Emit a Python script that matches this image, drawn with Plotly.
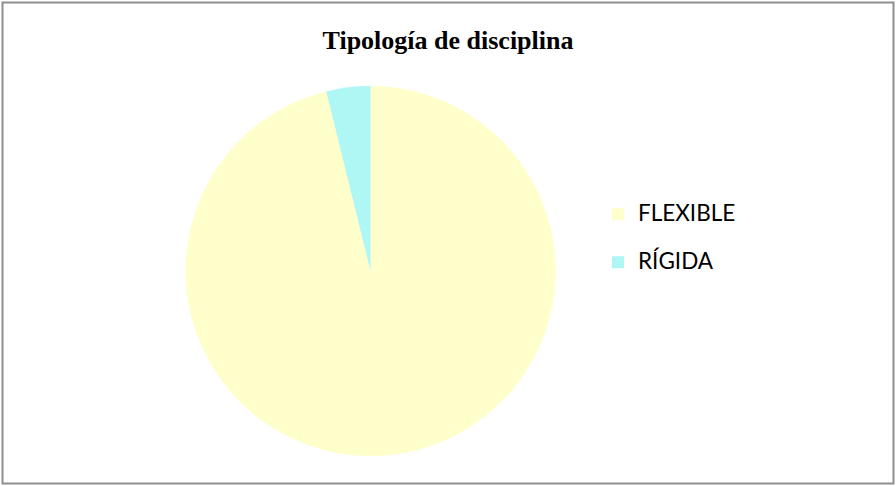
import plotly.graph_objects as go

labels = ["FLEXIBLE", "RÍGIDA"]
values = [25, 1]
colors = ["#FFFFCC", "#AEF7F5"]

W, H = 896, 486

# blank first line makes each legend row taller (matches the wide row spacing)
legend_labels = ["&nbsp;<br><span style='font-size:22.5px'>%s</span>" % l for l in labels]

fig = go.Figure()

fig.add_trace(go.Pie(
    labels=legend_labels,
    values=values,
    marker=dict(colors=colors, line=dict(width=0)),
    textinfo="none",
    sort=False,
    direction="clockwise",
    rotation=0,
    domain=dict(x=[185.5 / W, 555.5 / W], y=[30 / H, 400 / H]),
    hoverinfo="value+percent",
))

fig.update_layout(
    width=W,
    height=H,
    margin=dict(l=0, r=0, t=0, b=0),
    paper_bgcolor="white",
    plot_bgcolor="white",
    title=dict(
        text="<b>Tipología de disciplina</b>",
        font=dict(family="Liberation Serif", size=26, color="black"),
        x=0.5, xanchor="center", xref="paper",
        y=1 - 40 / H, yanchor="middle", yref="container",
    ),
    legend=dict(
        x=598 / W, xanchor="left",
        y=1 - 174 / H, yanchor="top",
        valign="bottom",
        font=dict(family="Lato", size=17.3, color="black"),
        bgcolor="rgba(0,0,0,0)",
    ),
    shapes=[dict(
        type="rect", xref="paper", yref="paper",
        x0=2.5 / W, x1=893.5 / W, y0=2.5 / H, y1=1 - 2.5 / H,
        line=dict(color="#8f8f8f", width=2),
    )],
)

fig.write_html(
    "out.html",
    config={"displayModeBar": False},
    post_script="document.body.style.margin='0';",
)
